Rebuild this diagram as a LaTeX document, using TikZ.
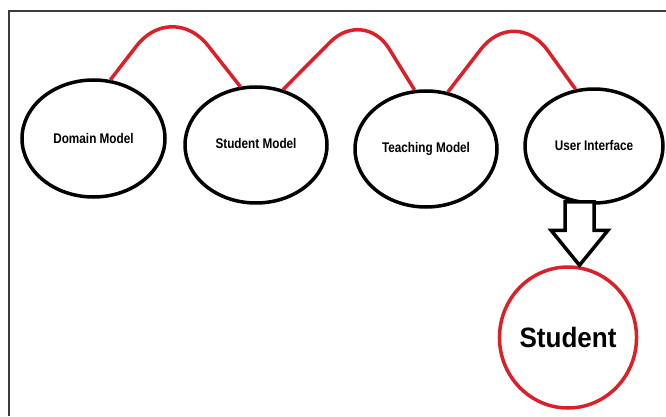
\documentclass[tikz,border=0pt]{standalone}
\usepackage{fontspec}
\setsansfont{Liberation Sans}
\usepackage{tikz}
\usetikzlibrary{shapes.geometric,calc}

\definecolor{linkred}{RGB}{218,32,40}
\definecolor{framegray}{RGB}{60,60,60}

\newcommand{\narrow}[2]{\scalebox{#1}[1]{#2}}

\begin{document}
\begin{tikzpicture}[x=1pt, y=1pt,
        model/.style = {ellipse, draw, line width=3.5pt, inner sep=0pt,
                        font=\sffamily\bfseries\fontsize{14}{16}\selectfont},
        link/.style = {linkred, line width=3.5pt},
        blockarrow/.style = {draw, line width=3.5pt, line join=miter, fill=white}]
        \useasboundingbox (0,0) rectangle (666,416);

        % Frame (top and left edges only)
        \draw[framegray, line width=1.5pt] (9,0) -- (9,405) -- (666,405);

        % Models
        \node[model, minimum width=143pt, minimum height=117pt] (dm) at (93.5,277.5) {\narrow{0.84}{Domain Model}};
        \node[model, minimum width=142pt, minimum height=116pt] (sm) at (256,271) {\raisebox{4pt}{\narrow{0.84}{Student Model}}};
        \node[model, minimum width=142pt, minimum height=116pt] (tm) at (426,267) {\raisebox{4pt}{\narrow{0.84}{Teaching Model}}};
        \node[model, minimum width=138pt, minimum height=114pt] (ui) at (594,270) {\raisebox{2pt}{\narrow{0.84}{User Interface}}};

        % Student
        \node[ellipse, draw=linkred, line width=3.5pt, inner sep=0pt,
              minimum width=130pt, minimum height=141pt,
              font=\sffamily\bfseries\fontsize{28}{32}\selectfont] (st) at (568,78.5) {\narrow{0.93}{Student}};

        % Red links over the top (corners of the humps)
        \coordinate (a1) at (172,416);
        \coordinate (a2) at (364,408);
        \coordinate (a3) at (515,411);
        \draw[link, rounded corners=58pt] (dm.74) -- (a1) -- (sm.105);
        \draw[link, rounded corners=48pt] (sm.64) -- (a2) -- (tm.101);
        \draw[link, rounded corners=56pt] (tm.69) -- (a3) -- (ui.108);

        % Block arrow from User Interface down to Student
        \coordinate (atop) at ($(ui.south)+(-14.5,3)$);
        \coordinate (atip) at (atop |- st.north);
        \draw[blockarrow] ($(atop)+(-14.5,0)$) -- ($(atip)+(-14.5,35)$) -- ($(atip)+(-28.5,35)$)
                -- (atip) -- ($(atip)+(28.5,35)$) -- ($(atip)+(14.5,35)$) -- ($(atop)+(14.5,0)$) -- cycle;
\end{tikzpicture}
\end{document}
